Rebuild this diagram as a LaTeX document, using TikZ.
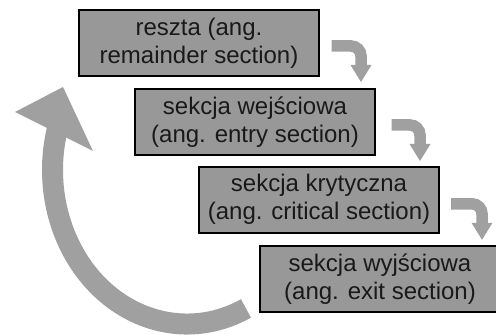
\documentclass[tikz,border=0pt]{standalone}
\usepackage{fontspec}
\setmainfont{Liberation Sans}
\definecolor{boxgray}{RGB}{152,152,152}
\definecolor{arrowgray}{RGB}{160,160,160}
\begin{document}
\begin{tikzpicture}[x=1pt,y=1pt,
  sectionbox/.style={draw=black,line width=2pt,fill=boxgray,minimum width=240pt,minimum height=66pt,
    inner sep=0pt,align=center,font=\fontsize{24}{28}\selectfont,text=black!90},
  smallshaft/.style={draw=arrowgray,line width=11.5pt},
  bigshaft/.style={draw=arrowgray,line width=21pt},
  headfill/.style={fill=arrowgray}]
\useasboundingbox (0,0) rectangle (496,335);
% boxes
\node[sectionbox] (b1) at (199,292) {reszta (ang.\\remainder section)};
\node[sectionbox] (b2) at (255,213) {sekcja wejściowa\\(ang. entry section)};
\node[sectionbox] (b3) at (319,135.3) {sekcja krytyczna\\(ang. critical section)};
\node[sectionbox] (b4) at (380,55.5) {sekcja wyjściowa\\(ang. exit section)};
% small arrows
\coordinate (s1) at (331.7,289);
\coordinate (s2) at (391.7,210);
\coordinate (s3) at (451,131.2);
\foreach \s/\xv in {s1/361,s2/420,s3/482}{
  \path (\s) coordinate (tmp);
  \draw[smallshaft] (tmp) -- ([xshift=-10pt]\xv,0 |- tmp) arc[start angle=90,end angle=0,radius=10pt] -- ++(0,-9.5);
  \fill[headfill] ([shift={(-10.5,-19)}]\xv,0 |- tmp) -- ([shift={(10.5,-19)}]\xv,0 |- tmp) -- ([shift={(0,-36)}]\xv,0 |- tmp) -- cycle;
}
% big return arrow
\coordinate (tail) at ({187+134.5*cos(-64)},{165+154*sin(-64)});
\draw[bigshaft] (tail) arc[start angle=-64,end angle=-195,x radius=134.5,y radius=154];
\coordinate (h1) at (15,223);
\coordinate (h2) at (63,248);
\coordinate (h3) at (93,184);
\fill[headfill] (h1) -- (h2) -- (h3) -- cycle;
\end{tikzpicture}
\end{document}
